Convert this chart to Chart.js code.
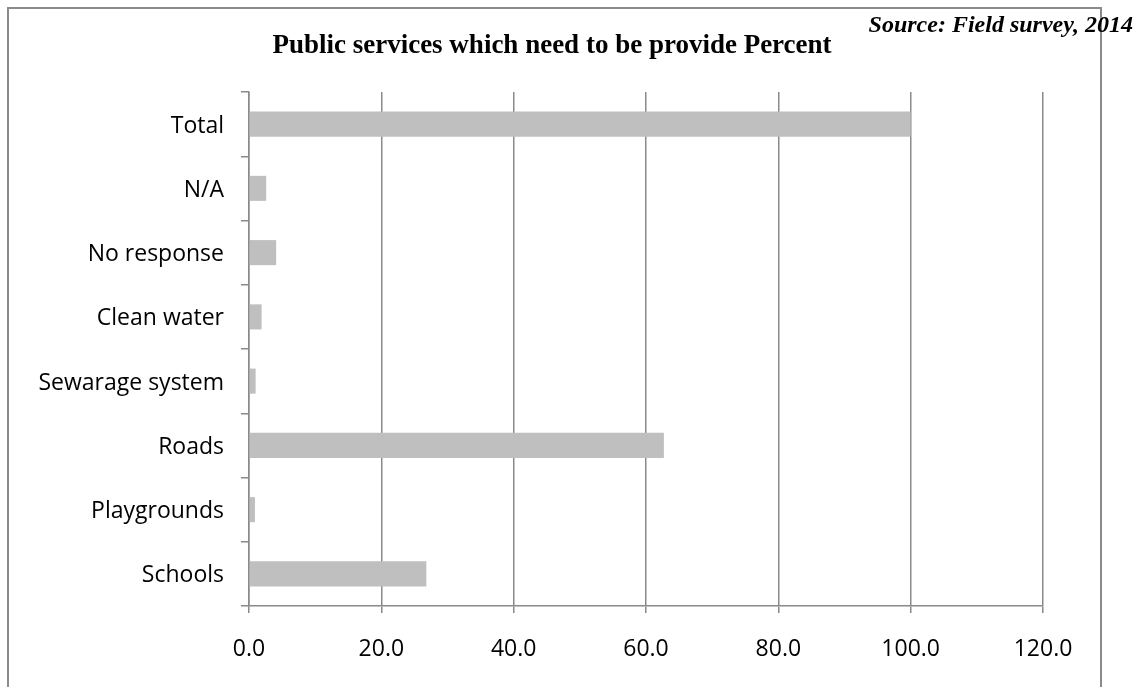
<!DOCTYPE html>
<html>
<head>
<meta charset="utf-8">
<script src="https://cdn.jsdelivr.net/npm/chart.js@4.4.1/dist/chart.umd.min.js"></script>
<style>
  html, body { margin: 0; padding: 0; background: #ffffff; }
  #wrap { position: relative; width: 1146px; height: 687px; overflow: hidden; }
  #frame { position: absolute; left: 7px; top: 7px; width: 1095px; height: 700px; border: 2px solid #8a8a8a; box-sizing: border-box; }
  #title { position: absolute; left: 252px; width: 600px; top: 31px; line-height: 1; text-align: center; font-family: "Liberation Serif", "Times New Roman", serif; font-weight: bold; font-size: 27px; color: #000; white-space: nowrap; }
  #source { position: absolute; right: 13px; top: 12px; line-height: 1; font-family: "Liberation Serif", "Times New Roman", serif; font-weight: bold; font-style: italic; font-size: 24px; color: #000; white-space: nowrap; }
  canvas { position: absolute; left: 0; top: 0; }
</style>
</head>
<body>
<div id="wrap">
  <div id="frame"></div>
  <canvas id="c" width="1146" height="687"></canvas>
  <div id="title">Public services which need to be provide Percent</div>
  <div id="source">Source: Field survey, 2014</div>
</div>
<script>
const categories = ["Total", "N/A", "No response", "Clean water", "Sewarage system", "Roads", "Playgrounds", "Schools"];
const percentValues = [100.0, 2.6, 4.1, 1.9, 1.0, 62.7, 0.9, 26.8];
const xTickValues = [0, 20, 40, 60, 80, 100, 120];

const gridColor = "#8a8a8a";
const labelFont = { family: "'Open Sans', 'Liberation Sans', sans-serif", size: 23 };

new Chart(document.getElementById("c"), {
  type: "bar",
  data: {
    labels: categories,
    datasets: [{
      label: "Percent",
      data: percentValues,
      backgroundColor: "#bfbfbf",
      borderWidth: 0,
      categoryPercentage: 1.0,
      barPercentage: 0.39
    }]
  },
  options: {
    indexAxis: "y",
    responsive: false,
    animation: false,
    devicePixelRatio: 1,
    layout: { padding: { left: 0, right: 103, top: 92, bottom: 0 } },
    plugins: {
      legend: { display: false },
      title: { display: false },
      tooltip: { enabled: false }
    },
    scales: {
      x: {
        type: "linear",
        min: xTickValues[0],
        max: xTickValues[xTickValues.length - 1],
        afterBuildTicks: (axis) => { axis.ticks = xTickValues.map(v => ({ value: v })); },
        afterFit: (axis) => { axis.height = 81; },
        ticks: {
          color: "#000",
          font: labelFont,
          padding: 23,
          maxRotation: 0,
          callback: (v) => Number(v).toFixed(1)
        },
        grid: {
          color: gridColor,
          lineWidth: 1.5,
          drawOnChartArea: true,
          drawTicks: true,
          tickLength: 7
        },
        border: { display: true, color: gridColor, width: 1.5 }
      },
      y: {
        afterFit: (axis) => { axis.width = 249; },
        ticks: {
          color: "#000",
          font: labelFont,
          padding: 17,
          labelOffset: 2
        },
        grid: {
          color: gridColor,
          lineWidth: 1.5,
          drawOnChartArea: false,
          drawTicks: true,
          tickLength: 8,
          offset: true
        },
        border: { display: true, color: gridColor, width: 1.5 }
      }
    }
  }
});
</script>
</body>
</html>
